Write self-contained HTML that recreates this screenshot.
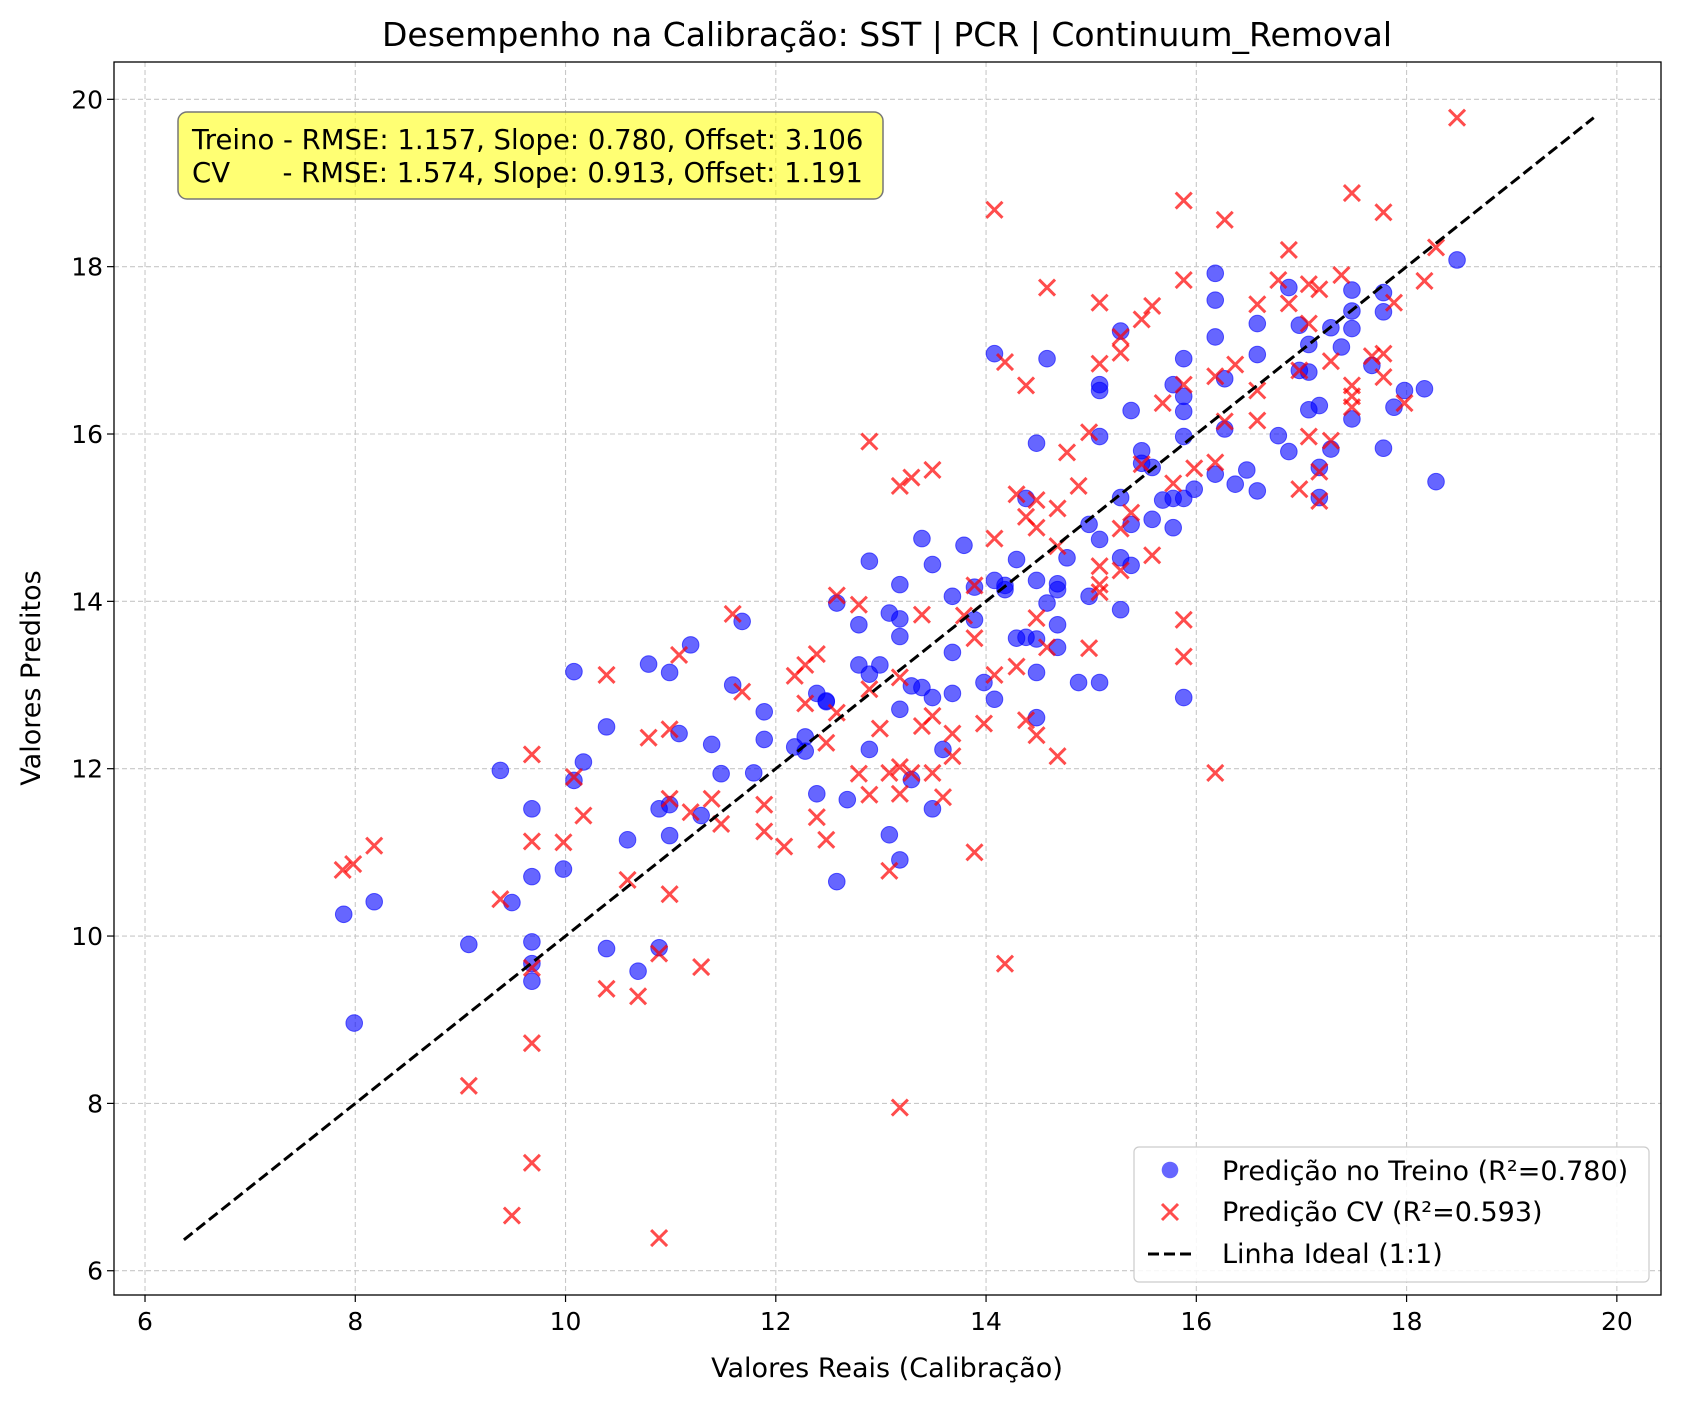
<!DOCTYPE html>
<html><head><meta charset="utf-8"><style>
body{margin:0;background:#fff}
svg{display:block;font-family:"DejaVu Sans","Liberation Sans",sans-serif}
</style></head><body>
<svg id="chart" width="1683" height="1402" viewBox="0 0 1683 1402">
<rect width="1683" height="1402" fill="#fff"/>
<g id="grid"></g>
<g id="axes"></g>
<g id="marks"></g>
</svg>
<script>
const trainX=[7.89,7.99,8.18,9.08,9.38,9.49,9.68,9.68,9.68,9.68,9.68,9.98,10.08,10.08,10.17,10.39,10.39,10.59,10.69,10.79,10.89,10.89,10.99,10.99,10.99,11.08,11.19,11.29,11.39,11.48,11.59,11.68,11.89,11.89,11.79,12.18,12.28,12.28,12.39,12.39,12.48,12.48,12.58,12.58,12.68,12.79,12.79,12.89,12.89,12.89,12.99,13.08,13.08,13.18,13.18,13.18,13.18,13.18,13.29,13.29,13.39,13.39,13.49,13.49,13.49,13.59,13.68,13.68,13.68,13.79,13.89,13.89,13.98,14.08,14.08,14.08,14.18,14.18,14.29,14.29,14.38,14.38,14.48,14.48,14.48,14.48,14.48,14.58,14.58,14.68,14.68,14.68,14.68,14.77,14.88,14.98,14.98,15.08,15.08,15.08,15.08,15.08,15.28,15.28,15.28,15.28,15.38,15.38,15.38,15.48,15.48,15.58,15.58,15.68,15.78,15.78,15.78,15.88,15.88,15.88,15.88,15.88,15.88,15.98,16.18,16.18,16.18,16.18,16.27,16.27,16.37,16.48,16.58,16.58,16.58,16.78,16.88,16.88,16.98,16.98,17.07,17.07,17.07,17.17,17.17,17.17,17.28,17.28,17.38,17.48,17.48,17.48,17.48,17.67,17.78,17.78,17.78,17.88,17.98,18.17,18.28,18.48];
const trainY=[10.26,8.96,10.41,9.9,11.98,10.4,11.52,10.71,9.93,9.67,9.46,10.8,13.16,11.86,12.08,12.5,9.85,11.15,9.58,13.25,11.52,9.86,13.15,11.57,11.2,12.42,13.48,11.44,12.29,11.94,13.0,13.76,12.68,12.35,11.95,12.26,12.38,12.21,12.9,11.7,12.81,12.8,13.98,10.65,11.63,13.72,13.24,14.48,13.13,12.23,13.24,13.86,11.21,14.2,13.79,13.58,12.71,10.91,12.99,11.87,14.75,12.97,14.44,12.85,11.52,12.23,14.06,13.39,12.9,14.67,14.17,13.78,13.03,14.25,12.83,16.96,14.19,14.14,14.5,13.56,13.57,15.23,15.89,14.25,13.55,13.15,12.61,16.9,13.98,14.21,14.14,13.72,13.45,14.52,13.03,14.92,14.06,13.03,16.59,16.52,15.97,14.74,17.23,15.24,14.52,13.9,16.28,14.92,14.43,15.8,15.65,15.6,14.98,15.21,16.59,15.23,14.88,16.9,16.45,16.27,15.97,15.23,12.85,15.34,17.92,17.6,17.16,15.52,16.66,16.06,15.4,15.57,17.32,16.95,15.32,15.98,17.75,15.79,17.3,16.76,17.07,16.74,16.29,16.34,15.6,15.24,17.27,15.82,17.04,17.72,17.47,17.26,16.18,16.82,17.69,17.46,15.83,16.32,16.52,16.54,15.43,18.08];
const cvX=[7.88,7.98,8.18,9.08,9.38,9.49,9.68,9.68,9.68,9.68,9.68,9.98,10.08,10.17,10.39,10.39,10.59,10.69,10.79,10.89,10.89,10.99,10.99,10.99,11.08,11.19,11.29,11.39,11.48,11.59,11.68,11.89,11.89,12.08,12.18,12.28,12.28,12.39,12.39,12.48,12.48,12.58,12.58,12.79,12.79,12.89,12.89,12.89,12.99,13.08,13.08,13.18,13.18,13.18,13.18,13.18,13.29,13.29,13.39,13.39,13.49,13.49,13.49,13.59,13.68,13.68,13.79,13.89,13.89,13.89,13.98,14.08,14.08,14.08,14.18,14.18,14.29,14.29,14.38,14.38,14.38,14.48,14.48,14.48,14.48,14.58,14.58,14.68,14.68,14.68,14.77,14.88,14.98,14.98,15.08,15.08,15.08,15.08,15.08,15.28,15.28,15.28,15.28,15.38,15.48,15.48,15.58,15.58,15.68,15.78,15.88,15.88,15.88,15.88,15.88,15.98,16.18,16.18,16.18,16.27,16.27,16.37,16.58,16.58,16.58,16.78,16.88,16.88,16.98,16.98,17.07,17.07,17.07,17.17,17.17,17.17,17.28,17.28,17.38,17.48,17.48,17.48,17.48,17.67,17.78,17.78,17.78,17.88,17.98,18.17,18.28,18.48];
const cvY=[10.79,10.86,11.08,8.21,10.44,6.66,12.17,11.13,9.62,8.72,7.29,11.12,11.9,11.44,13.12,9.37,10.67,9.28,12.37,9.79,6.39,12.47,11.64,10.5,13.36,11.48,9.63,11.64,11.34,13.85,12.92,11.57,11.25,11.07,13.11,12.78,13.24,13.37,11.42,12.31,11.15,14.07,12.67,11.94,13.96,15.91,12.95,11.69,12.48,10.78,11.95,15.38,13.09,12.02,11.7,7.95,15.48,11.95,13.84,12.51,15.57,12.63,11.95,11.66,12.42,12.15,13.83,14.19,13.56,11.0,12.54,18.68,14.75,13.12,16.86,9.67,15.28,13.22,16.58,15.01,12.58,15.21,14.88,13.8,12.4,17.75,13.45,15.11,14.66,12.15,15.78,15.38,16.02,13.44,17.57,16.84,14.42,14.2,14.11,17.16,16.97,14.87,14.37,15.06,17.37,15.64,17.53,14.55,16.37,15.41,18.79,17.84,16.59,13.78,13.34,15.59,16.69,15.66,11.95,18.56,16.15,16.83,17.55,16.52,16.16,17.84,18.2,17.56,16.76,15.34,17.79,17.32,15.97,17.73,15.55,15.2,16.87,15.92,17.9,18.88,16.58,16.45,16.32,16.93,18.65,16.96,16.68,17.57,16.37,17.83,18.23,19.78];
const xTicks=[6,8,10,12,14,16,18,20];
const yTicks=[6,8,10,12,14,16,18,20];
const idealRange=[6.37,19.78];

const L=114,R=1661,T=62,B=1295;
const X0=5.705,X1=20.42,Y0=5.71,Y1=20.446;
const sx=v=>L+(v-X0)/(X1-X0)*(R-L);
const sy=v=>B-(v-Y0)/(Y1-Y0)*(B-T);
const NS="http://www.w3.org/2000/svg";
function mk(tag,attrs,parent,text){const e=document.createElementNS(NS,tag);for(const k in attrs)e.setAttribute(k,attrs[k]);if(text!==undefined)e.textContent=text;parent.appendChild(e);return e;}
const grid=document.getElementById('grid'),axes=document.getElementById('axes'),marks=document.getElementById('marks');

xTicks.forEach(t=>{
  const g=mk('line',{x1:sx(t),x2:sx(t),y1:T,y2:B,stroke:'#c8c8c8','stroke-width':1.1,'stroke-dasharray':'5,3'},grid);
  
  
  const tk=mk('line',{x1:sx(t),x2:sx(t),y1:B,y2:B+7,stroke:'#000','stroke-width':1.2},axes);
  
  
  const lb=mk('text',{x:sx(t),y:B+35,'text-anchor':'middle','font-size':25},axes,String(t));
  
  
});
yTicks.forEach(t=>{
  const g=mk('line',{x1:L,x2:R,y1:sy(t),y2:sy(t),stroke:'#c8c8c8','stroke-width':1.1,'stroke-dasharray':'5,3'},grid);
  
  
  const tk=mk('line',{x1:L-7,x2:L,y1:sy(t),y2:sy(t),stroke:'#000','stroke-width':1.2},axes);
  
  
  const lb=mk('text',{x:L-11,y:sy(t)+9,'text-anchor':'end','font-size':25},axes,String(t));
  
  
});

trainX.forEach((x,i)=>{
  const c=mk('circle',{cx:sx(x),cy:sy(trainY[i]),r:8.3,fill:'rgba(0,0,255,0.6)',stroke:'rgba(0,0,255,0.6)','stroke-width':1},marks);
  
  
});
cvX.forEach((x,i)=>{
  const cx=sx(x),cy=sy(cvY[i]),h=8;
  const p=mk('path',{d:`M${cx-h},${cy-h}L${cx+h},${cy+h}M${cx-h},${cy+h}L${cx+h},${cy-h}`,stroke:'rgba(255,0,0,0.7)','stroke-width':3,fill:'none'},marks);
  
  
});
const il=mk('line',{x1:sx(idealRange[0]),y1:sy(idealRange[0]),x2:sx(idealRange[1]),y2:sy(idealRange[1]),stroke:'#000','stroke-width':3,'stroke-dasharray':'11,5'},marks);



const fr=mk('rect',{x:L,y:T,width:R-L,height:B-T,fill:'none',stroke:'#000','stroke-width':1.3},axes);


</script>
<svg style="position:absolute;left:0;top:0" width="1683" height="1402">
<text x="887" y="46" text-anchor="middle" font-size="33" font-family="DejaVu Sans,sans-serif">Desempenho na Calibração: SST | PCR | Continuum_Removal</text>
<text x="887" y="1377" text-anchor="middle" font-size="27" font-family="DejaVu Sans,sans-serif">Valores Reais (Calibração)</text>
<text transform="translate(40,678) rotate(-90)" text-anchor="middle" font-size="27" font-family="DejaVu Sans,sans-serif">Valores Preditos</text>
<g>
<rect x="178" y="112" width="705" height="87" rx="9" fill="rgba(255,255,0,0.55)" stroke="#777" stroke-width="1.5"/>
<text x="192" y="149" font-size="27.5" font-family="DejaVu Sans,sans-serif">Treino - RMSE: 1.157, Slope: 0.780, Offset: 3.106</text>
<text x="192" y="182" font-size="27.5" font-family="DejaVu Sans,sans-serif" xml:space="preserve">CV      - RMSE: 1.574, Slope: 0.913, Offset: 1.191</text>
</g>
<g>
<rect x="1134" y="1147" width="515" height="135" rx="5" fill="rgba(255,255,255,0.85)" stroke="#ccc" stroke-width="1.2"/>
<circle cx="1170" cy="1170" r="8.3" fill="rgba(0,0,255,0.6)"/>
<text x="1222" y="1180" font-size="27" font-family="DejaVu Sans,sans-serif">Predição no Treino (R²=0.780)</text>
<path d="M1162,1204L1178,1220M1162,1220L1178,1204" stroke="rgba(255,0,0,0.7)" stroke-width="3"/>
<text x="1222" y="1221" font-size="27" font-family="DejaVu Sans,sans-serif">Predição CV (R²=0.593)</text>
<line x1="1148" y1="1254" x2="1194" y2="1254" stroke="#000" stroke-width="3" stroke-dasharray="11,5"/>
<text x="1222" y="1263" font-size="27" font-family="DejaVu Sans,sans-serif">Linha Ideal (1:1)</text>
</g>
</svg>
</body></html>
